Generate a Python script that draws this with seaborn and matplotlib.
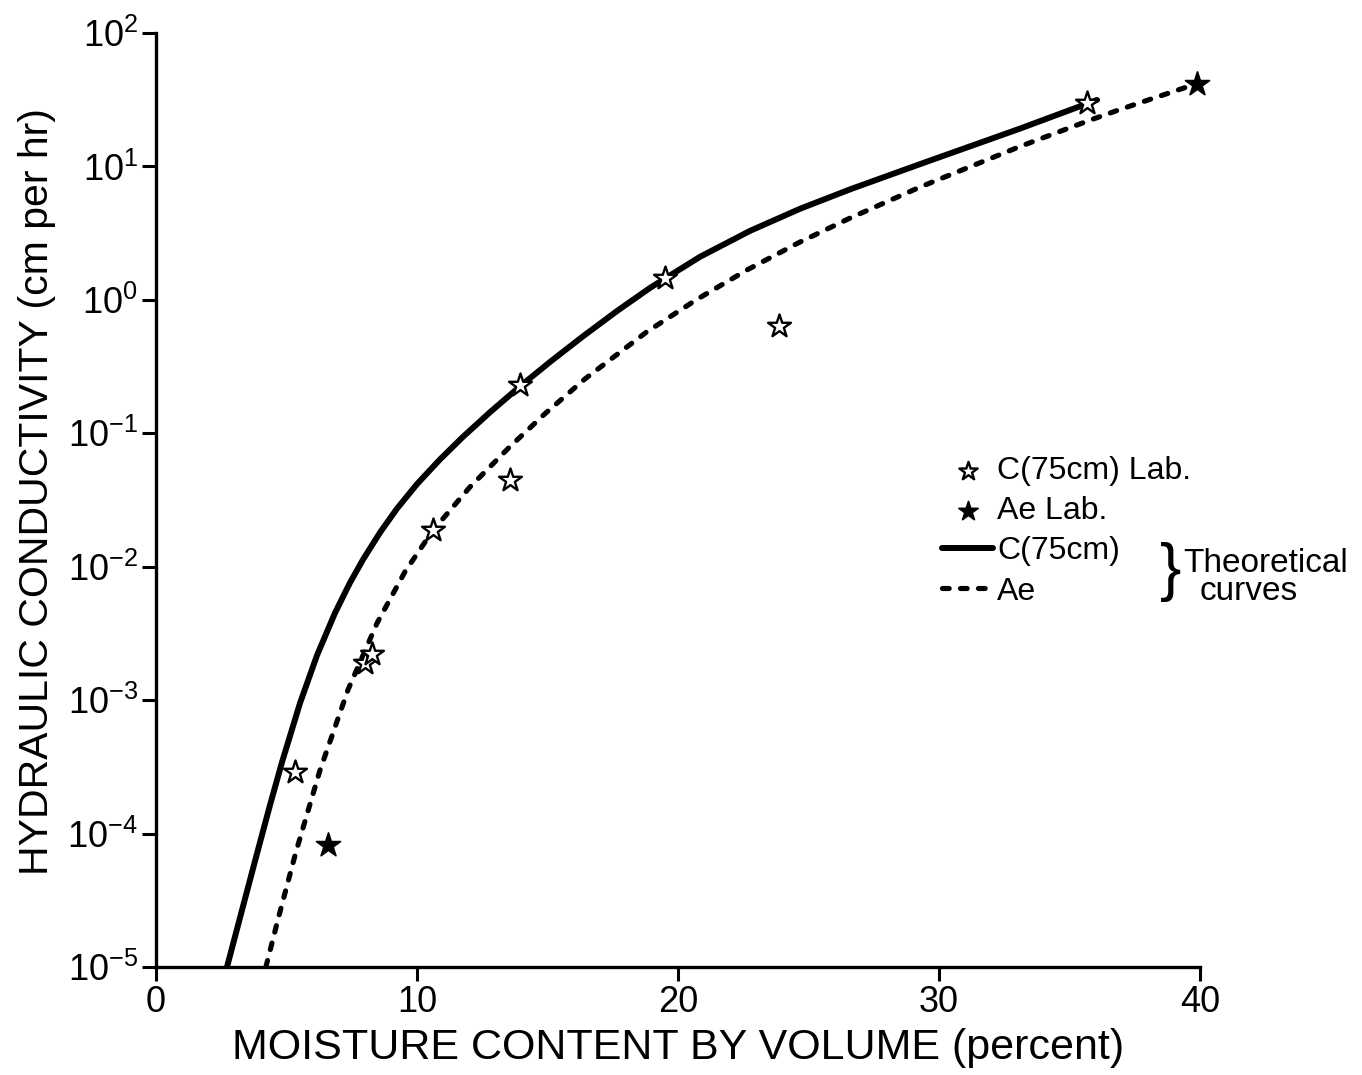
import matplotlib
matplotlib.use("Agg")
import matplotlib.pyplot as plt
from matplotlib.ticker import FixedLocator, NullLocator, FuncFormatter
import numpy as np
import seaborn as sns

# ---- data (moisture %, conductivity cm/hr) ----
c75_theta = [2.72, 3.33, 3.83, 4.37, 4.83, 5.52, 6.17, 6.86, 7.43, 7.93, 8.58, 9.23,
             10.0, 10.88, 11.76, 12.80, 13.95, 15.10, 16.36, 17.66, 18.93, 20.84,
             22.76, 24.67, 26.59, 29.27, 33.10, 35.29, 36.05]
c75_k = [1.0e-5, 2.83e-5, 6.62e-5, 1.64e-4, 3.44e-4, 9.53e-4, 2.17e-3, 4.51e-3,
         7.57e-3, 1.13e-2, 1.80e-2, 2.72e-2, 4.16e-2, 6.37e-2, 9.40e-2, 0.144,
         0.225, 0.343, 0.533, 0.824, 1.23, 2.10, 3.29, 4.81, 6.73, 10.4, 19.2,
         27.7, 31.5]

ae_theta = [4.21, 4.67, 5.36, 6.28, 7.36, 8.47, 9.54, 10.61, 12.03, 13.56, 14.90,
            16.44, 18.81, 20.73, 22.68, 24.67, 26.59, 29.27, 33.10, 35.67, 36.93, 39.89]
ae_k = [1.0e-5, 2.26e-5, 7.26e-5, 2.97e-4, 1.20e-3, 3.78e-3, 9.18e-3, 1.87e-2,
        3.96e-2, 7.94e-2, 0.140, 0.256, 0.577, 1.01, 1.69, 2.71, 4.10, 7.00,
        14.1, 21.8, 26.7, 41.8]

c75_lab_theta = [5.33, 8.0, 8.28, 10.6, 13.56, 13.95, 19.5, 23.87, 35.67]
c75_lab_k = [2.9e-4, 1.9e-3, 2.2e-3, 0.019, 0.045, 0.23, 1.46, 0.64, 30.0]

ae_lab_theta = [6.59, 39.89]
ae_lab_k = [8.2e-5, 41.5]

x_ticks = [0, 10, 20, 30, 40]
y_exponents = [-5, -4, -3, -2, -1, 0, 1, 2]

label_c75_lab = "C(75cm) Lab."
label_ae_lab = "Ae Lab."
label_c75 = "C(75cm)"
label_ae = "Ae"

# ---- style ----
sns.set_theme(style="ticks")
plt.rcParams["font.family"] = ["Liberation Sans", "DejaVu Sans"]
plt.rcParams["mathtext.fontset"] = "custom"
plt.rcParams["mathtext.rm"] = "Liberation Sans"
plt.rcParams["mathtext.it"] = "Liberation Sans:italic"
plt.rcParams["mathtext.bf"] = "Liberation Sans:bold"
plt.rcParams["mathtext.default"] = "regular"

W, H = 1362, 1075
fig = plt.figure(figsize=(W / 100, H / 100), dpi=100)
ax = fig.add_axes([156 / W, 1 - 967 / H, (1200 - 156) / W, (967 - 33) / H])
ax.set_yscale("log")

sns.lineplot(x=c75_theta, y=c75_k, ax=ax, color="black", lw=4.3, sort=False,
             estimator=None, label=label_c75, solid_capstyle="round",
             solid_joinstyle="round")
sns.lineplot(x=ae_theta, y=ae_k, ax=ax, color="black", lw=3.7, sort=False,
             estimator=None, label=label_ae, linestyle=(0, (1.3, 2.2)),
             dash_capstyle="round")
sns.scatterplot(x=c75_lab_theta, y=c75_lab_k, ax=ax, marker="*", s=300,
                color="white", edgecolor="black", linewidth=1.7,
                label=label_c75_lab, zorder=4, clip_on=False)
sns.scatterplot(x=ae_lab_theta, y=ae_lab_k, ax=ax, marker="*", s=330,
                color="black", edgecolor="black", linewidth=1.2,
                label=label_ae_lab, zorder=4, clip_on=False)

ax.set_xlim(0, 40)
ax.set_ylim(1e-5, 1e2)
ax.xaxis.set_major_locator(FixedLocator(x_ticks))
ax.yaxis.set_major_locator(FixedLocator([10.0 ** e for e in y_exponents]))
ax.yaxis.set_minor_locator(NullLocator())
ax.xaxis.set_minor_locator(NullLocator())
ax.yaxis.set_major_formatter(
    FuncFormatter(lambda v, p: r"$10^{%d}$" % int(round(np.log10(v)))))
ax.xaxis.set_major_formatter(FuncFormatter(lambda v, p: "%d" % v))
ax.tick_params(axis="both", direction="out", length=10, width=2.2,
               color="black", labelcolor="black", labelsize=26, pad=3)
sns.despine(ax=ax)
for side in ("left", "bottom"):
    ax.spines[side].set_linewidth(2.4)
    ax.spines[side].set_color("black")
ax.grid(False)

ax.set_xlabel("MOISTURE CONTENT BY VOLUME (percent)", fontsize=31, labelpad=6,
              color="black")
ax.set_ylabel("HYDRAULIC CONDUCTIVITY (cm per hr)", fontsize=29.5,
              color="black")
ax.yaxis.set_label_coords((56 - 156) / 1044, (967 - 492) / 934)

# ---- legend ----
handles, labels = ax.get_legend_handles_labels()
hmap = dict(zip(labels, handles))
order = [label_c75_lab, label_ae_lab, label_c75, label_ae]
leg = ax.legend([hmap[k] for k in order], order, loc="upper left",
                bbox_to_anchor=(942 / W, 1 - 456 / H),
                bbox_transform=fig.transFigure, frameon=False, fontsize=23,
                handlelength=1.6, handletextpad=0.12, labelspacing=0.32,
                borderpad=0, borderaxespad=0, markerscale=0.8)
for t in leg.get_texts():
    t.set_color("black")

fig.text(1160 / W, 1 - 572 / H, "}", fontsize=46, ha="left", va="center",
         color="black")
fig.text(1183 / W, 1 - 563 / H, "Theoretical", fontsize=24, ha="left",
         va="center", color="black")
fig.text(1200 / W, 1 - 592 / H, "curves", fontsize=24, ha="left",
         va="center", color="black")

fig.savefig("out.png", dpi=100, facecolor="white")
